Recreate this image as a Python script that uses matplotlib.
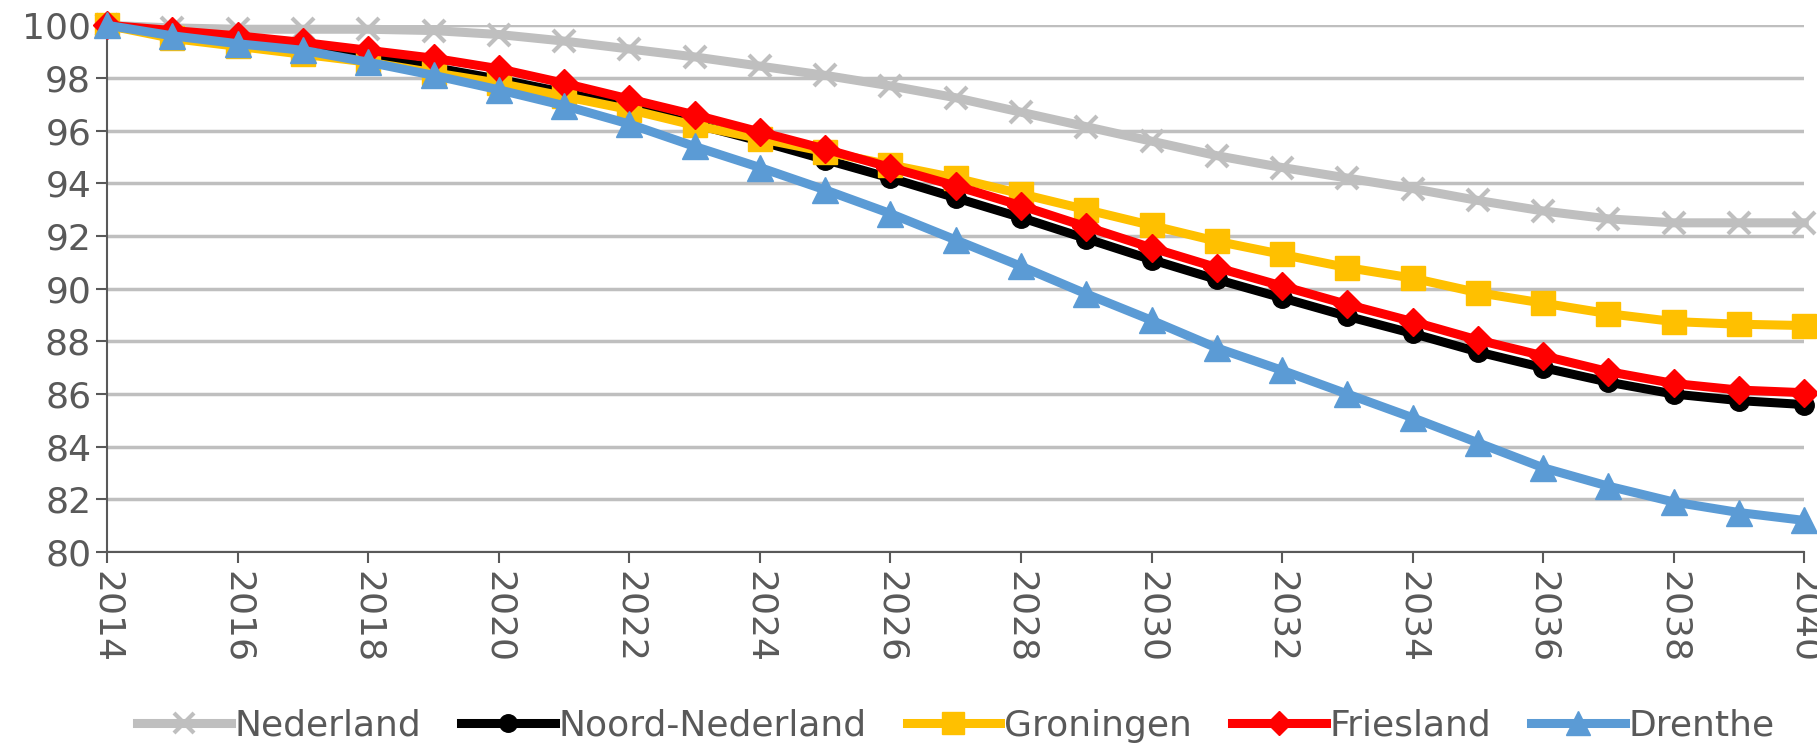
import matplotlib.pyplot as plt
import numpy as np

years = list(range(2014, 2041))

nederland = [100, 99.9, 99.85, 99.85, 99.85, 99.8, 99.65, 99.4, 99.1, 98.8,
             98.45, 98.1, 97.7, 97.25, 96.7, 96.15, 95.6, 95.05, 94.6, 94.2,
             93.8, 93.35, 92.95, 92.65, 92.5, 92.5, 92.5]
noord_nederland = [100, 99.6, 99.35, 99.1, 98.8, 98.4, 97.95, 97.45, 96.9, 96.25,
                   95.6, 94.9, 94.2, 93.45, 92.7, 91.9, 91.1, 90.35, 89.65, 88.95,
                   88.3, 87.6, 87.0, 86.45, 86.0, 85.75, 85.6]
groningen = [100, 99.5, 99.2, 98.9, 98.6, 98.2, 97.8, 97.3, 96.8, 96.2,
             95.7, 95.2, 94.7, 94.2, 93.6, 93.0, 92.4, 91.8, 91.3, 90.8,
             90.4, 89.85, 89.45, 89.05, 88.75, 88.65, 88.6]
friesland = [100, 99.8, 99.6, 99.35, 99.05, 98.75, 98.35, 97.8, 97.2, 96.6,
             95.95, 95.3, 94.6, 93.9, 93.15, 92.35, 91.55, 90.8, 90.1, 89.4,
             88.75, 88.05, 87.45, 86.85, 86.4, 86.15, 86.05]
drenthe = [100, 99.6, 99.3, 99.05, 98.6, 98.1, 97.55, 96.95, 96.25, 95.4,
           94.6, 93.75, 92.85, 91.85, 90.85, 89.8, 88.8, 87.75, 86.9, 86.0,
           85.1, 84.15, 83.2, 82.5, 81.9, 81.5, 81.2]

labels = ['Nederland', 'Noord-Nederland', 'Groningen', 'Friesland', 'Drenthe']
colors = ['#BFBFBF', '#000000', '#FFC000', '#FF0000', '#5B9BD5']
markers = ['x', 'o', 's', 'D', '^']
msizes = [16, 14, 17, 14, 19]

plt.rcParams['font.family'] = ['DejaVu Sans']
fig = plt.figure(figsize=(18.17, 7.44), dpi=100)
ax = fig.add_axes([0.059, 0.258, 0.934, 0.708])

series = [nederland, noord_nederland, groningen, friesland, drenthe]
for vals, lab, c, m, ms in zip(series, labels, colors, markers, msizes):
    ax.plot(years, vals, color=c, lw=6.5, marker=m, ms=ms, mew=3 if m == 'x' else 1,
            mec=c, mfc=c, label=lab, clip_on=False, zorder=3)

ax.set_xlim(2014, 2040)
ax.set_ylim(80, 100)
ax.set_xticks(range(2014, 2041, 2))
ax.set_yticks(range(80, 101, 2))
ax.grid(axis='y', color='#BFBFBF', lw=2.5, zorder=0)
for s in ['top', 'right']:
    ax.spines[s].set_visible(False)
for s in ['left', 'bottom']:
    ax.spines[s].set_color('#595959')
    ax.spines[s].set_linewidth(1.5)
ax.tick_params(axis='both', colors='#595959', labelsize=26, length=8, width=1.5)
ax.tick_params(axis='x', labelrotation=270, pad=6)

ax.legend(loc='center', bbox_to_anchor=(0.5, -0.33), ncol=5, frameon=False,
          fontsize=26, handlelength=2.6, columnspacing=1.1, handletextpad=0.1,
          labelcolor='#595959', markerscale=0.9)

fig.savefig('out.png', dpi=100)
